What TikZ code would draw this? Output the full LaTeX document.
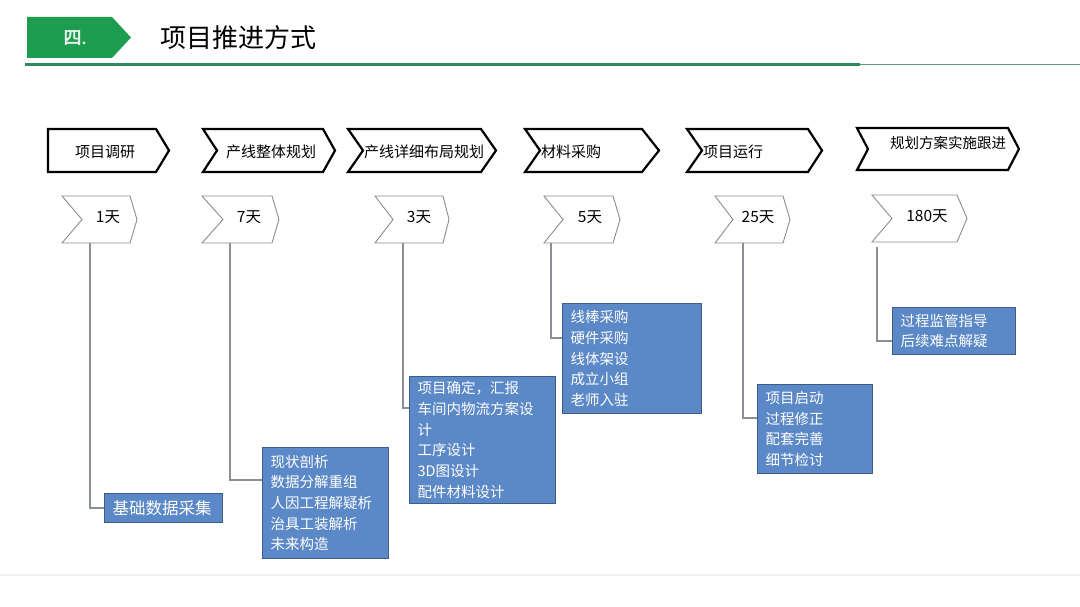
\documentclass[tikz,border=0pt]{standalone}
\usepackage{fontspec}
\setmainfont{Noto Sans CJK SC}
\newfontfamily\hdrfont[FakeBold=2.5]{Noto Sans CJK SC}
\definecolor{hdrgreen}{HTML}{1F9D4E}
\definecolor{linegreen}{HTML}{2E8A5C}
\definecolor{thingreen}{HTML}{5E9680}
\definecolor{boxfill}{HTML}{5B88C6}
\definecolor{boxedge}{HTML}{3C5D88}
\definecolor{conn}{HTML}{8A8F94}
\definecolor{daygray}{HTML}{8C8C8C}
\tikzset{
  phase/.style={draw=black, line width=2.2pt, line join=miter, fill=white},
  daychev/.style={draw=daygray, line width=0.9pt, fill=white},
  phasetext/.style={font=\fontsize{15}{17}\selectfont, text=black, inner sep=0pt},
  daytext/.style={font=\fontsize{15.5}{17}\selectfont, text=black, inner sep=0pt},
  infobox/.style={draw=boxedge, line width=1pt, fill=boxfill, text=white, align=left,
    font=\fontsize{14.5}{20.7}\selectfont, inner xsep=8pt, inner ysep=4pt, anchor=north west},
  link/.style={draw=conn, line width=1.1pt},
}
\begin{document}
\begin{tikzpicture}[x=1pt,y=-1pt]
\useasboundingbox (0,0) rectangle (1080,607);
\fill[white] (0,0) rectangle (1080,607);
% header
\fill[hdrgreen] (27,17) -- (112,17) -- (131,37.5) -- (112,58) -- (27,58) -- cycle;
\node[font=\fontsize{18}{20}\hdrfont, text=white!92!hdrgreen] (hnum) at (75,37.5) {四.};
\node[font=\fontsize{26}{28}\selectfont, anchor=west, inner sep=0pt] (htitle) at (160,38) {项目推进方式};
\draw[linegreen, line width=3pt] (25,64.5) -- (860,64.5);
\draw[thingreen, line width=1pt] (860,65) -- (1080,65);
\draw[black!6, line width=1.2pt] (0,575) -- (1080,575);

% phase chevrons
\draw[phase] (48,129) -- (156,129) -- (169,150.5) -- (156,172) -- (48,172) -- cycle;
\draw[phase] (203,129) -- (323,129) -- (335,150.5) -- (323,172) -- (203,172) -- (217,150.5) -- cycle;
\draw[phase] (348,129) -- (481,129) -- (496,150.5) -- (481,172) -- (348,172) -- (363,150.5) -- cycle;
\draw[phase] (525,129) -- (642,129) -- (659,150.5) -- (642,172) -- (525,172) -- (540,150.5) -- cycle;
\draw[phase] (687,129) -- (808,129) -- (822,150.5) -- (808,172) -- (687,172) -- (702,150.5) -- cycle;
\draw[phase] (857,128) -- (1008,128) -- (1019,149) -- (1008,170) -- (857,170) -- (868,149) -- cycle;
\node[phasetext] (p1) at (105,152) {项目调研};
\node[phasetext] (p2) at (271,152) {产线整体规划};
\node[phasetext, anchor=west] (p3) at (364,152) {产线详细布局规划};
\node[phasetext, anchor=west] (p4) at (541,152) {材料采购};
\node[phasetext, anchor=west] (p5) at (703,152) {项目运行};
\node[phasetext, font=\fontsize{14.5}{17}\selectfont, anchor=west] (p6) at (890,143) {规划方案实施跟进};

% day chevrons
\draw[daychev] (62,196) -- (130,196) -- (137,219.5) -- (130,243) -- (62,243) -- (82,219.5) -- cycle;
\draw[daychev] (202,196) -- (272,196) -- (279,219.5) -- (272,243) -- (202,243) -- (223,219.5) -- cycle;
\draw[daychev] (375,196) -- (443,196) -- (449,219.5) -- (443,243) -- (375,243) -- (393,219.5) -- cycle;
\draw[daychev] (544,196) -- (613,196) -- (620,219.5) -- (613,243) -- (544,243) -- (563,219.5) -- cycle;
\draw[daychev] (715,196) -- (783,196) -- (790,219.5) -- (783,243) -- (715,243) -- (733,219.5) -- cycle;
\draw[daychev] (872,195) -- (957,195) -- (967,218.5) -- (957,242) -- (872,242) -- (892,218.5) -- cycle;
\node[daytext] (d1) at (108,217) {1天};
\node[daytext] (d2) at (249,217) {7天};
\node[daytext] (d3) at (419,217) {3天};
\node[daytext] (d4) at (590,217) {5天};
\node[daytext] (d5) at (758,217) {25天};
\node[daytext] (d6) at (927,216) {180天};

% info boxes
\node[infobox, font=\fontsize{16.5}{20}\selectfont, text width=102pt, minimum height=29pt, inner ysep=2pt] (b1) at (104,493) {基础数据采集};
\node[infobox, text width=110pt, minimum height=111pt] (b2) at (262,447) {现状剖析\\数据分解重组\\人因工程解疑析\\治具工装解析\\未来构造};
\node[infobox, text width=130pt, minimum height=127pt] (b3) at (409,376) {项目确定，汇报\\车间内物流方案设\\计\\工序设计\\3D图设计\\配件材料设计};
\node[infobox, text width=123pt, minimum height=110pt] (b4) at (562,303) {线棒采购\\硬件采购\\线体架设\\成立小组\\老师入驻};
\node[infobox, text width=99pt, minimum height=89pt] (b5) at (757,384) {项目启动\\过程修正\\配套完善\\细节检讨};
\node[infobox, text width=107pt, minimum height=47pt, inner ysep=2pt] (b6) at (892,307) {过程监管指导\\后续难点解疑};

% connectors
\coordinate (c1) at (90,243);
\coordinate (c2) at (230,243);
\coordinate (c3) at (403,243);
\coordinate (c4) at (551,243);
\coordinate (c5) at (743,243);
\coordinate (c6) at (877,247);
\draw[link] (c1) |- (b1.west);
\draw[link] (c2) |- (b2.west |- 0,480);
\draw[link] (c3) |- (b3.west |- 0,408);
\draw[link] (c4) |- (b4.west |- 0,338);
\draw[link] (c5) |- (b5.west |- 0,418);
\draw[link] (c6) |- (b6.west |- 0,341);
\end{tikzpicture}
\end{document}
